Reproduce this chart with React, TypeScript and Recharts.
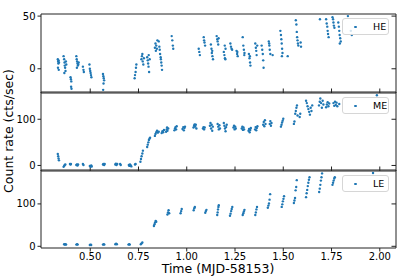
import { ScatterChart, Scatter, XAxis, YAxis, Legend } from "recharts";

// time axis (MJD-58153)
const timeTicks = [0.5, 0.75, 1.0, 1.25, 1.5, 1.75, 2.0];
const timeDomain: [number, number] = [0.245, 2.084];

const heTicks = [0, 50];
const meTicks = [0, 100];
const leTicks = [0, 100];

// [time, count rate]
const heRate: [number, number][] = [
  [0.332, 9], [0.334, 7], [0.336, 8], [0.335, 5], [0.338, 6], [0.333, 1], [0.337, -1],
  [0.362, 12], [0.365, 9], [0.367, 6], [0.368, 3], [0.37, 1], [0.372, -2], [0.366, -4], [0.374, 7], [0.376, 4],
  [0.398, -8], [0.4, -10], [0.402, -12], [0.401, -17], [0.403, -19],
  [0.428, 12], [0.43, 9], [0.432, 7], [0.434, 5], [0.436, 3], [0.438, 4], [0.431, 1], [0.44, 6],
  [0.462, 2], [0.465, -1], [0.467, -3],
  [0.496, 4], [0.498, 0], [0.5, -2], [0.502, -4], [0.504, -6], [0.506, -8],
  [0.566, -5], [0.568, -7], [0.57, -9], [0.572, -11], [0.569, -14], [0.567, -20],
  [0.73, -9], [0.732, -6], [0.735, -3], [0.737, 1], [0.739, 4],
  [0.765, 9], [0.768, 12], [0.77, 14], [0.772, 7], [0.775, 4], [0.778, 10],
  [0.795, 11], [0.798, 8], [0.8, 5], [0.802, 2], [0.805, -3], [0.808, 9], [0.803, 13],
  [0.835, 20], [0.838, 24], [0.84, 17], [0.842, 22], [0.845, 19], [0.848, 27],
  [0.855, 26], [0.858, 21], [0.86, 18], [0.862, 14], [0.865, 11], [0.868, 6], [0.87, 3], [0.872, -1], [0.866, 9],
  [0.922, 31], [0.925, 27], [0.928, 22], [0.93, 19],
  [1.062, 19], [1.065, 16], [1.068, 13],
  [1.088, 30], [1.09, 27], [1.092, 25], [1.095, 22],
  [1.125, 23], [1.128, 19], [1.13, 15], [1.133, 12], [1.136, 9], [1.132, 17],
  [1.155, 31], [1.158, 28], [1.16, 26], [1.163, 23], [1.165, 29],
  [1.192, 16], [1.195, 13], [1.198, 10], [1.2, 9], [1.197, 22], [1.201, 19],
  [1.226, 24], [1.229, 21], [1.232, 19], [1.235, 18],
  [1.258, 17], [1.261, 14], [1.264, 12], [1.262, 16],
  [1.29, 30], [1.293, 22], [1.296, 18], [1.299, 15], [1.298, 13],
  [1.322, 14], [1.325, 10], [1.328, 6], [1.33, 3], [1.327, 12],
  [1.355, 24], [1.358, 20], [1.36, 17], [1.362, 13], [1.365, 22],
  [1.388, 22], [1.391, 18], [1.394, 14], [1.396, 8], [1.398, 1],
  [1.425, 26], [1.428, 22], [1.43, 18], [1.433, 14], [1.427, 24],
  [1.445, 13],
  [1.485, 36], [1.488, 32], [1.49, 28], [1.492, 24], [1.494, 19], [1.496, 15], [1.493, 12],
  [1.523, 12],
  [1.565, 46], [1.568, 42], [1.57, 35], [1.572, 30], [1.574, 27], [1.576, 24], [1.578, 22],
  [1.59, 25], [1.592, 21],
  [1.69, 47],
  [1.722, 47], [1.725, 43], [1.728, 40], [1.73, 36], [1.732, 33], [1.735, 30],
  [1.755, 49], [1.758, 47], [1.76, 44], [1.762, 41], [1.765, 39],
  [1.785, 44], [1.788, 40], [1.79, 36], [1.792, 32], [1.795, 29], [1.798, 26], [1.793, 24],
  [1.835, 50], [1.85, 36], [1.855, 32],
];

const meRate: [number, number][] = [
  [0.332, 25], [0.334, 20], [0.336, 15], [0.338, 11],
  [0.362, -3], [0.365, -1], [0.368, 1], [0.371, 2],
  [0.395, 3], [0.398, 2], [0.4, 3],
  [0.428, 1], [0.431, 2], [0.434, 0], [0.437, 2],
  [0.462, 3], [0.465, 1],
  [0.498, -1], [0.502, -3], [0.505, 0], [0.508, -2],
  [0.566, 2], [0.569, 3], [0.572, 1], [0.575, 3],
  [0.63, 2], [0.633, 4], [0.636, 1], [0.64, 3], [0.655, 3], [0.658, 1],
  [0.7, 1], [0.703, -1], [0.706, 2], [0.71, 0], [0.713, -2],
  [0.732, 2], [0.735, 3],
  [0.76, 8], [0.763, 14], [0.766, 20], [0.77, 26], [0.773, 32],
  [0.795, 40], [0.798, 45], [0.801, 50], [0.804, 55], [0.807, 58], [0.81, 60],
  [0.835, 64], [0.838, 68], [0.842, 72], [0.846, 75], [0.85, 71], [0.855, 73],
  [0.87, 70], [0.874, 74], [0.878, 72], [0.882, 77],
  [0.893, 73], [0.896, 78], [0.9, 75], [0.904, 80], [0.898, 82],
  [0.936, 76], [0.939, 80], [0.942, 83], [0.945, 78], [0.948, 85],
  [0.978, 79], [0.982, 83], [0.985, 76], [0.988, 81], [0.991, 84],
  [1.035, 82], [1.038, 86], [1.041, 89], [1.044, 84], [1.047, 88], [1.05, 80],
  [1.084, 80], [1.087, 83], [1.09, 78], [1.093, 82],
  [1.12, 86], [1.123, 92], [1.126, 80], [1.129, 88], [1.132, 75], [1.135, 84],
  [1.16, 90], [1.163, 84], [1.166, 78], [1.169, 87], [1.172, 80],
  [1.192, 92], [1.195, 86], [1.198, 80], [1.201, 74], [1.204, 83], [1.207, 88],
  [1.242, 82], [1.245, 86], [1.248, 78], [1.251, 84], [1.254, 80],
  [1.285, 80], [1.288, 84], [1.291, 77], [1.294, 82], [1.297, 78],
  [1.32, 75], [1.323, 79], [1.326, 72], [1.329, 77], [1.332, 81],
  [1.354, 78], [1.357, 83], [1.36, 76], [1.363, 81], [1.366, 85],
  [1.396, 88], [1.399, 94], [1.402, 85], [1.405, 98], [1.408, 90],
  [1.43, 90], [1.433, 96], [1.436, 86], [1.439, 92],
  [1.488, 84], [1.491, 88], [1.494, 93], [1.497, 97], [1.5, 101],
  [1.555, 90], [1.558, 95], [1.562, 112], [1.565, 118], [1.568, 125], [1.571, 130], [1.574, 108],
  [1.585, 105], [1.588, 112],
  [1.618, 140], [1.622, 135], [1.626, 128], [1.63, 122], [1.634, 116], [1.638, 110], [1.642, 125], [1.646, 118], [1.65, 130],
  [1.685, 130], [1.689, 138], [1.692, 145], [1.696, 135], [1.7, 125], [1.704, 140], [1.708, 132],
  [1.722, 126], [1.726, 132], [1.73, 137], [1.734, 128], [1.738, 134],
  [1.76, 135], [1.764, 129], [1.768, 138], [1.772, 131], [1.776, 136], [1.78, 128], [1.79, 133],
  [1.985, 152],
];

const leRate: [number, number][] = [
  [0.365, 5], [0.368, 4], [0.372, 5], [0.375, 4],
  [0.428, 4], [0.432, 5], [0.435, 4],
  [0.498, 3], [0.502, 4], [0.505, 3],
  [0.566, 4], [0.57, 5], [0.573, 4],
  [0.63, 5], [0.634, 6], [0.638, 5],
  [0.698, 4], [0.702, 5], [0.705, 4],
  [0.762, 5], [0.766, 7], [0.77, 9],
  [0.83, 48], [0.833, 52], [0.836, 56], [0.839, 60], [0.842, 58],
  [0.9, 75], [0.903, 80], [0.906, 85], [0.909, 78],
  [0.968, 78], [0.971, 83], [0.974, 88],
  [1.036, 85], [1.039, 90], [1.042, 93],
  [1.096, 79], [1.099, 83], [1.102, 86],
  [1.158, 74], [1.16, 80], [1.162, 87], [1.164, 93], [1.166, 97],
  [1.224, 72], [1.227, 77], [1.23, 83], [1.233, 88], [1.236, 93],
  [1.29, 74], [1.293, 78], [1.296, 82], [1.299, 86],
  [1.355, 74], [1.358, 80], [1.361, 87], [1.364, 93],
  [1.42, 91], [1.423, 96], [1.426, 101], [1.429, 110], [1.432, 123],
  [1.492, 93], [1.495, 99], [1.498, 106], [1.501, 112], [1.504, 118],
  [1.555, 102], [1.558, 108], [1.561, 114], [1.564, 132], [1.567, 140], [1.57, 156],
  [1.618, 116], [1.621, 125], [1.624, 133], [1.627, 142], [1.63, 150], [1.633, 157], [1.636, 163],
  [1.686, 128], [1.689, 136], [1.692, 145], [1.695, 155], [1.698, 163], [1.701, 172],
  [1.755, 145], [1.758, 150], [1.761, 155], [1.764, 160], [1.767, 163],
  [1.965, 173],
];

const W = 415;
const H = 277;
const BLUE = "#1f77b4";
const AXIS = "#222";
const blank = () => "";

interface PanelProps {
  name: string;
  points: [number, number][];
  domain: [number, number];
  ticks: number[];
  top: number; // y of the panel's top spine
  bottom: number; // y of the panel's bottom spine
  legendTop: number;
  showTime?: boolean;
}

// small matplotlib-like "." marker
const Dot = (props: any) => {
  const { cx, cy } = props;
  if (cx == null || cy == null) return null;
  return <circle cx={cx} cy={cy} r={1.2} fill={BLUE} />;
};

function LegendBox({ name }: { name: string }) {
  return (
    <div
      style={{
        position: "relative",
        width: 47,
        height: 17,
        boxSizing: "border-box",
        border: "1px solid #d6d6d6",
        borderRadius: 3,
        background: "rgba(255,255,255,0.8)",
        fontSize: 9.5,
        color: "#000",
      }}
    >
      <span
        style={{
          position: "absolute",
          left: 11,
          top: 6.5,
          width: 2.5,
          height: 2.5,
          borderRadius: "50%",
          background: BLUE,
        }}
      />
      <span style={{ position: "absolute", left: 30, top: 1, lineHeight: "14px" }}>{name}</span>
    </div>
  );
}

function Panel({ name, points, domain, ticks, top, bottom, legendTop, showTime }: PanelProps) {
  const data = points.map(([t, rate]) => ({ t, rate }));
  // mirrored 1px axes draw their spine on the outer edge of their box
  const marginBottom = showTime ? H - bottom - 29 : H - bottom - 1;
  return (
    <div style={{ position: "absolute", left: 0, top: 0 }}>
      <ScatterChart width={W} height={H} margin={{ top, right: 19, bottom: marginBottom, left: 0 }}>
        <XAxis
          dataKey="t"
          type="number"
          domain={timeDomain}
          ticks={timeTicks}
          allowDataOverflow
          height={showTime ? 29 : 1}
          mirror={!showTime}
          tickSize={showTime ? 3.5 : 4.5}
          tickMargin={1}
          tickFormatter={showTime ? (v: number) => v.toFixed(2) : blank}
          tick={{ fontSize: 10, fill: "#000" }}
          stroke={AXIS}
        />
        <XAxis
          xAxisId="top"
          orientation="top"
          type="number"
          domain={timeDomain}
          ticks={timeTicks}
          allowDataOverflow
          height={1}
          mirror
          tickSize={4.5}
          tickFormatter={blank}
          stroke={AXIS}
        />
        <YAxis
          dataKey="rate"
          type="number"
          domain={domain}
          ticks={ticks}
          allowDataOverflow
          width={41}
          tickSize={3.5}
          tickMargin={2}
          tick={{ fontSize: 10, fill: "#000" }}
          stroke={AXIS}
        />
        <YAxis
          yAxisId="right"
          orientation="right"
          type="number"
          domain={domain}
          ticks={ticks}
          allowDataOverflow
          width={1}
          mirror
          tickSize={4.5}
          tickFormatter={blank}
          stroke={AXIS}
        />
        <Scatter name={name} data={data} fill={BLUE} shape={Dot} isAnimationActive={false} />
        <Legend
          layout="vertical"
          align="center"
          verticalAlign="middle"
          wrapperStyle={{ top: legendTop, left: 342, width: 47, height: 17 }}
          content={() => <LegendBox name={name} />}
        />
      </ScatterChart>
    </div>
  );
}

export default function App() {
  return (
    <div
      style={{
        position: "absolute",
        left: 0,
        top: 0,
        width: W,
        height: H,
        background: "#fff",
        fontFamily: "'DejaVu Sans', sans-serif",
      }}
    >
      <Panel name="HE" points={heRate} domain={[-23, 52]} ticks={heTicks} top={14} bottom={92} legendTop={18} />
      <Panel name="ME" points={meRate} domain={[-12, 159]} ticks={meTicks} top={92} bottom={170} legendTop={97} />
      <Panel
        name="LE"
        points={leRate}
        domain={[-4, 180]}
        ticks={leTicks}
        top={170}
        bottom={248}
        legendTop={175}
        showTime
      />
      <svg
        width={W}
        height={H}
        style={{ position: "absolute", left: 0, top: 0, pointerEvents: "none" }}
      >
        <text x={13} y={131} fontSize={12.5} textAnchor="middle" transform="rotate(-90 13 131)" fill="#000">
          Count rate (cts/sec)
        </text>
        <text x={218} y={273} fontSize={12.5} textAnchor="middle" fill="#000">
          Time (MJD-58153)
        </text>
      </svg>
    </div>
  );
}
